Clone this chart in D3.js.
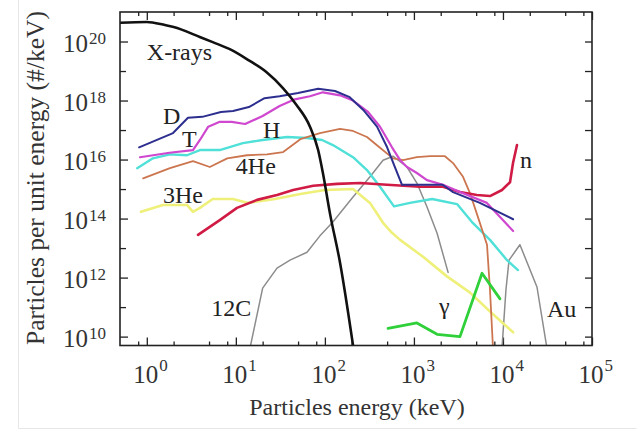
<!DOCTYPE html>
<html><head><meta charset="utf-8">
<script src="https://cdn.jsdelivr.net/npm/d3@7"></script>
<style>
html,body{margin:0;padding:0;background:#fff;}
svg{display:block;font-family:"Liberation Serif","Times New Roman",serif;}
</style></head><body>
<svg id="chart" width="639" height="430"></svg>
<script>
// Axis ranges and tick values
const xDomain = [0.5, 1e5];
const yDomain = [5e9, 1e21];
const xMajorTicks = [1, 10, 100, 1000, 10000, 100000];
const xTickExponents = ["0", "1", "2", "3", "4", "5"];
const yMajorTicks = [1e10, 1e12, 1e14, 1e16, 1e18, 1e20];
const yTickExponents = ["10", "12", "14", "16", "18", "20"];
const xAxisTitle = "Particles energy (keV)";
const yAxisTitle = "Particles per unit energy (#/keV)";

// Spectra: [energy (keV), particles per keV]
const xrays = [[0.5,4.3e20],[1.0,4.6e20],[1.6,3.6e20],[2,3.1e20],[4,1.4e20],[5.5,9.5e19],[9,5.1e19],[14,2.3e19],[22,9.3e18],[34,2.6e18],[48,7.1e17],[68,1.3e17],[84,2.1e16],[95,3.5e15],[114,1.5e14],[148,3.2e12],[207,5.1e9]];
const deuterons = [[0.82,2.6e16],[1.97,7.9e16],[2.9,2.6e17],[4.2,2.8e17],[6.8,4.1e17],[9.3,4.4e17],[14,6.0e17],[21,1.2e18],[31,1.4e18],[50,1.8e18],[84,2.5e18],[130,2.1e18],[190,1.3e18],[270,4.8e17],[385,1.3e17],[500,2.6e16],[610,5.6e15],[735,1.4e15],[2100,1.4e15],[2750,7.9e14],[5500,3.4e14],[13000,9.5e13]];
const tritons = [[0.84,1.2e16],[1.8,1.7e16],[3.3,2.1e16],[3.95,4.6e16],[4.9,1.3e17],[6.6,1.9e17],[9,1.9e17],[12.7,1.6e17],[20,3.0e17],[31,6.5e17],[46,1.1e18],[68,1.4e18],[95,1.9e18],[148,1.5e18],[207,1.0e18],[305,4.1e17],[416,1.3e17],[567,2.6e16],[700,9.5e15],[836,5.6e15],[1080,3.5e15],[1400,2.0e15],[2120,1.4e15],[3560,7.2e14],[6600,3.4e14],[13000,3.8e13]];
const protons = [[0.78,5.1e15],[1.17,1.1e16],[1.82,1.5e16],[2.83,1.4e16],[3.95,2.1e16],[6.6,2.1e16],[12,3.6e16],[20,4.6e16],[37.5,5.8e16],[63,5.4e16],[93,4.6e16],[123,3.1e16],[207,1.2e16],[297,4.4e15],[416,1.2e15],[597,2.6e14],[903,3.4e14],[1600,4.6e14],[3050,3.1e14],[4490,7.6e13],[7150,1.9e13],[11100,3.9e12],[14750,1.8e12]];
const alphas = [[0.91,2.3e15],[1.82,5.1e15],[3.3,8.9e15],[5.1,5.6e15],[8,1.1e16],[13.3,1.4e16],[22.4,1.5e16],[34,1.8e16],[53,4.9e16],[88,7.9e16],[148,1.1e17],[207,9.3e16],[297,5.8e16],[416,2.5e16],[582,1.1e16],[754,9.5e15],[1080,1.2e16],[1520,1.3e16],[2230,1.3e16],[2750,7.6e15],[3560,2.6e15],[4270,7.2e14],[5250,1.1e14],[6620,1.3e13],[7150,3.8e11],[7730,4e9]];
const helium3 = [[0.86,1.7e14],[1.52,2.9e14],[2.83,2.9e14],[3.3,1.7e14],[3.95,2.3e14],[5.5,4.6e14],[9.3,4.6e14],[13.7,3.4e14],[27.5,4.6e14],[53,6.8e14],[100,9.3e14],[207,1.0e15],[321,3.4e14],[450,7.2e13],[567,3.3e13],[700,1.9e13],[1265,5.1e12],[2350,1.1e12],[4270,3.1e11],[7150,7.1e10],[13000,1.4e10]];
const neutrons = [[3.76,2.8e13],[6.6,8.9e13],[10.3,2.3e14],[17.3,4.3e14],[29,6.3e14],[44,9.3e14],[74,1.3e15],[137,1.5e15],[250,1.6e15],[500,1.4e15],[1170,1.2e15],[2120,1.2e15],[3290,7.9e14],[5100,6.3e14],[7150,5.8e14],[9750,9.3e14],[12000,1.7e15],[12970,7.6e15],[14380,3.1e16]];
const carbon12 = [[14.4,4e9],[20,4.4e11],[29,2.1e12],[40.6,3.9e12],[63,7.2e12],[88,2.6e13],[123,7.6e13],[207,5.4e14],[321,2.6e15],[450,9.5e15],[582,1.3e16],[836,5.6e15],[1080,1.6e15],[1400,2.5e14],[1820,3.2e13],[2420,1.5e12]];
const gold = [[9750,4e9],[10800,3.8e11],[11700,3.9e12],[15500,1.3e13],[24100,4.8e11],[31200,4e9]];
const gammas = [[512,1.9e10],[1080,2.9e10],[1820,1.2e10],[3290,1.0e10],[5820,1.4e12],[9270,1.9e11]];

// Curve names placed at [energy, particles per keV]
const curveLabels = [
  ["X-rays", 1.0, 2.3e19], ["D", 1.52, 1.6e17], ["T", 2.48, 2.6e16], ["H", 20.2, 5.4e16],
  ["4He", 10.0, 3.2e15], ["3He", 1.52, 3.4e14], ["12C", 5.3, 4.9e10], ["\u03b3", 1910, 5.8e10],
  ["Au", 31200, 4.6e10], ["n", 15500, 5.1e15]
];

// Drawing order and stroke styles
const series = [
  {data: carbon12, color: "#8c8c8c", width: 1.5},
  {data: gold, color: "#8c8c8c", width: 1.5},
  {data: helium3, color: "#eef07a", width: 2.6},
  {data: protons, color: "#4fe0d8", width: 2.4},
  {data: alphas, color: "#cc7650", width: 1.8},
  {data: gammas, color: "#2fd03a", width: 2.8},
  {data: neutrons, color: "#d01b45", width: 2.6},
  {data: tritons, color: "#cf48cf", width: 2.2},
  {data: deuterons, color: "#2d2f8f", width: 2.0},
  {data: xrays, color: "#111111", width: 2.6, smooth: true}
];

const svg = d3.select("#chart");
const m = {left: 120, top: 12, right: 592, bottom: 345.5};

const x = d3.scaleLog().domain(xDomain).range([m.left, m.right]);
const y = d3.scaleLog().domain(yDomain).range([m.bottom, m.top]);

// faint outer edge of the figure
svg.append("path").attr("d", "M18.5,0V428.5H636.5").attr("fill", "none")
  .attr("stroke", "#e6e6e6").attr("stroke-width", 1);

svg.append("defs").append("clipPath").attr("id", "plotClip")
  .append("rect").attr("x", m.left).attr("y", m.top)
  .attr("width", m.right - m.left).attr("height", m.bottom - m.top);

// minor tick values
const xMinor = [];
for (let e = -1; e <= 4; e++) for (const k of [2, 5, 8]) {
  const v = k * Math.pow(10, e);
  if (v > xDomain[0] && v < xDomain[1] && !xMajorTicks.includes(v)) xMinor.push(v);
}
const yMinor = [];
for (let e = 11; e <= 19; e += 2) yMinor.push(Math.pow(10, e));

function styleAxis(g) {
  g.select(".domain").remove();
  g.selectAll("line").attr("stroke", "#222").attr("stroke-width", 1.3);
  g.selectAll("text").remove();
}

// inward ticks on all four sides
svg.append("g").attr("transform", `translate(0,${m.bottom})`)
  .call(d3.axisBottom(x).tickValues(xMajorTicks).tickSize(-8)).call(styleAxis);
svg.append("g").attr("transform", `translate(0,${m.bottom})`)
  .call(d3.axisBottom(x).tickValues(xMinor).tickSize(-4)).call(styleAxis);
svg.append("g").attr("transform", `translate(0,${m.top})`)
  .call(d3.axisTop(x).tickValues(xMajorTicks).tickSize(-8)).call(styleAxis);
svg.append("g").attr("transform", `translate(0,${m.top})`)
  .call(d3.axisTop(x).tickValues(xMinor).tickSize(-4)).call(styleAxis);
svg.append("g").attr("transform", `translate(${m.left},0)`)
  .call(d3.axisLeft(y).tickValues(yMajorTicks).tickSize(-8)).call(styleAxis);
svg.append("g").attr("transform", `translate(${m.left},0)`)
  .call(d3.axisLeft(y).tickValues(yMinor).tickSize(-6)).call(styleAxis);
svg.append("g").attr("transform", `translate(${m.right},0)`)
  .call(d3.axisRight(y).tickValues(yMajorTicks.concat(yMinor)).tickSize(-7)).call(styleAxis);

// curves
const plot = svg.append("g").attr("clip-path", "url(#plotClip)");
series.forEach(s => {
  const line = d3.line().x(d => x(d[0])).y(d => y(d[1]))
    .curve(s.smooth ? d3.curveMonotoneX : d3.curveLinear);
  plot.append("path").datum(s.data).attr("d", line)
    .attr("fill", "none").attr("stroke", s.color).attr("stroke-width", s.width)
    .attr("stroke-linejoin", "round").attr("stroke-linecap", "round");
});

// frame
svg.append("rect").attr("x", m.left).attr("y", m.top)
  .attr("width", m.right - m.left).attr("height", m.bottom - m.top)
  .attr("fill", "none").attr("stroke", "#222").attr("stroke-width", 1.6);

// tick labels
const tickFont = 25, supFont = 17;
xMajorTicks.forEach((v, i) => {
  const t = svg.append("text").attr("x", x(v) - 13.5).attr("y", 383)
    .attr("font-size", tickFont).attr("fill", "#333");
  t.append("tspan").text("10");
  t.append("tspan").attr("dy", -12).attr("dx", 1).attr("font-size", supFont).text(xTickExponents[i]);
});
yMajorTicks.forEach((v, i) => {
  const t = svg.append("text").attr("x", 106).attr("y", y(v) + 10)
    .attr("text-anchor", "end").attr("font-size", tickFont).attr("fill", "#333");
  t.append("tspan").text("10");
  t.append("tspan").attr("dy", -8).attr("dx", 1).attr("font-size", supFont).text(yTickExponents[i]);
});

// axis titles
svg.append("text").attr("x", 357).attr("y", 415).attr("text-anchor", "middle")
  .attr("font-size", 24).attr("fill", "#333").text(xAxisTitle);
svg.append("text").attr("transform", "translate(44,178) rotate(-90)")
  .attr("text-anchor", "middle").attr("font-size", 25.5).attr("fill", "#333").text(yAxisTitle);

// curve names
curveLabels.forEach(([name, e, n]) => {
  svg.append("text").attr("x", x(e)).attr("y", y(n))
    .attr("font-size", 24).attr("fill", "#222").text(name);
});
</script>
</body></html>
